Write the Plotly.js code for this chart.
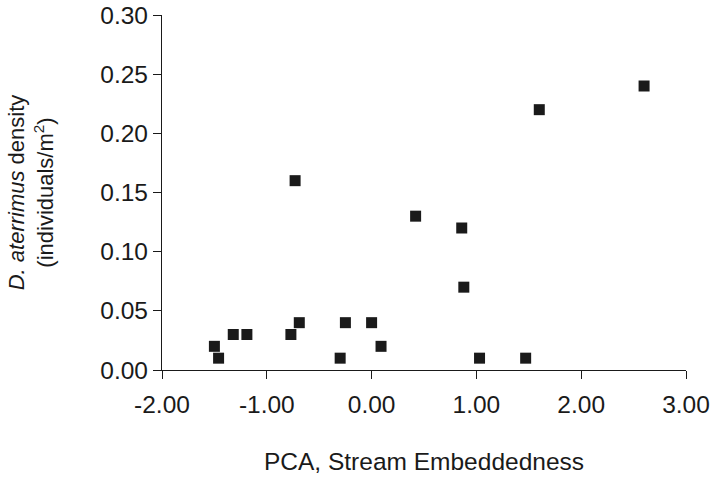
<!DOCTYPE html>
<html>
<head>
<meta charset="utf-8">
<script src="https://cdn.plot.ly/plotly-3.0.1.min.js"></script>
<style>html,body{margin:0;padding:0;background:#fff}#chart{width:716px;height:477px}</style>
</head>
<body>
<div id="chart"></div>
<script>
// PCA score (stream embeddedness) and D. aterrimus density (individuals/m^2)
const pcaScores = [-1.50, -1.46, -1.32, -1.19, -0.73, -0.77, -0.69, -0.30, -0.25, 0.00, 0.09, 0.42, 0.86, 0.88, 1.03, 1.47, 1.60, 2.60];
const densities = [0.02, 0.01, 0.03, 0.03, 0.16, 0.03, 0.04, 0.01, 0.04, 0.04, 0.02, 0.13, 0.12, 0.07, 0.01, 0.01, 0.22, 0.24];
const xTickVals = [-2, -1, 0, 1, 2, 3];
const xTickText = ["-2.00", "-1.00", "0.00", "1.00", "2.00", "3.00"];
const yTickVals = [0, 0.05, 0.10, 0.15, 0.20, 0.25, 0.30];

const FONT = "Liberation Sans, Arial, Helvetica, sans-serif";
const INK = "#1a1a1a";

Plotly.newPlot("chart", [{
  type: "scatter",
  mode: "markers",
  x: pcaScores,
  y: densities,
  marker: {symbol: "square", size: 11, color: INK},
  hoverinfo: "x+y"
}], {
  width: 716, height: 477,
  margin: {l: 162, r: 30, t: 15, b: 107},
  paper_bgcolor: "#fff", plot_bgcolor: "#fff",
  showlegend: false,
  font: {family: FONT, color: INK},
  xaxis: {
    range: [-2, 3],
    tickvals: xTickVals, ticktext: xTickText,
    ticks: "outside", ticklen: 8, tickwidth: 1.3, tickcolor: INK,
    ticklabelstandoff: 4,
    showline: true, linecolor: INK, linewidth: 1.3,
    showgrid: false, zeroline: false,
    automargin: false,
    tickfont: {size: 24.5, family: FONT, color: INK},
    title: {text: "PCA, Stream Embeddedness", font: {size: 24.5, family: FONT, color: INK}, standoff: 36}
  },
  yaxis: {
    range: [0, 0.30],
    tickvals: yTickVals, tickformat: ".2f",
    ticks: "outside", ticklen: 8, tickwidth: 1.3, tickcolor: INK,
    showline: true, linecolor: INK, linewidth: 1.3,
    showgrid: false, zeroline: false,
    automargin: false,
    tickfont: {size: 24.5, family: FONT, color: INK},
    title: {text: "<i>D. aterrimus</i> density<br>(individuals/m<sup>2</sup>)", font: {size: 22, family: FONT, color: INK}, standoff: 40}
  }
}, {displayModeBar: false});
</script>
</body>
</html>
